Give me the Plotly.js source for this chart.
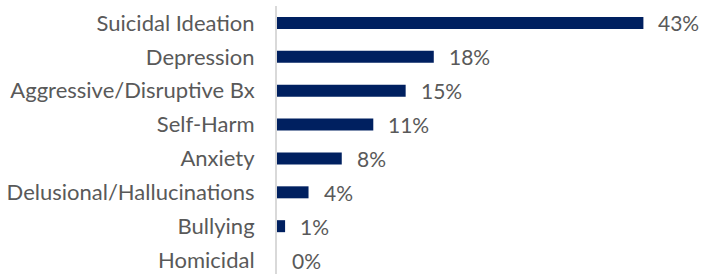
<!DOCTYPE html>
<html><head><meta charset="utf-8">
<script src="https://cdn.plot.ly/plotly-3.0.1.min.js"></script>
<style>html,body{margin:0;padding:0;overflow:hidden;background:#fff}</style>
</head><body><div id="chart" style="width:703px;height:277px"></div>
<script>
const categories = ["Suicidal Ideation", "Depression", "Aggressive/Disruptive Bx", "Self-Harm", "Anxiety", "Delusional/Hallucinations", "Bullying", "Homicidal"];
const values = [43, 18.4, 15.1, 11.3, 7.6, 3.7, 0.95, 0];
const valueLabels = ["43%", "18%", "15%", "11%", "8%", "4%", "1%", "0%"];

const font = {family: "Lato, 'Open Sans', sans-serif", size: 22, color: "#595959"};
const valFont = {family: "Lato, 'Open Sans', sans-serif", size: 21, color: "#595959"};

const trace = {
  type: "bar", orientation: "h",
  x: values, y: categories,
  marker: {color: "#002060", line: {width: 0}},
  hoverinfo: "none"
};

const annotations = categories.map((c, i) => ({
  x: values[i], y: c, xref: "x", yref: "y",
  text: valueLabels[i], showarrow: false,
  xanchor: "left", yanchor: "middle", xshift: 13,
  font: valFont
}));

const layout = {
  width: 703, height: 277,
  margin: {l: 277, r: 17, t: 6, b: 0},
  paper_bgcolor: "#fff", plot_bgcolor: "#fff",
  bargap: 0.646,
  showlegend: false,
  font: font,
  xaxis: {range: [0, 48], visible: false, fixedrange: true},
  yaxis: {autorange: "reversed", showgrid: false, zeroline: false,
          showline: true, linecolor: "#d9d9d9", linewidth: 2,
          ticks: "", ticklabelstandoff: 16, tickfont: font, fixedrange: true},
  annotations: annotations
};
Plotly.newPlot("chart", [trace], layout, {displayModeBar: false, staticPlot: true});
</script></body></html>
